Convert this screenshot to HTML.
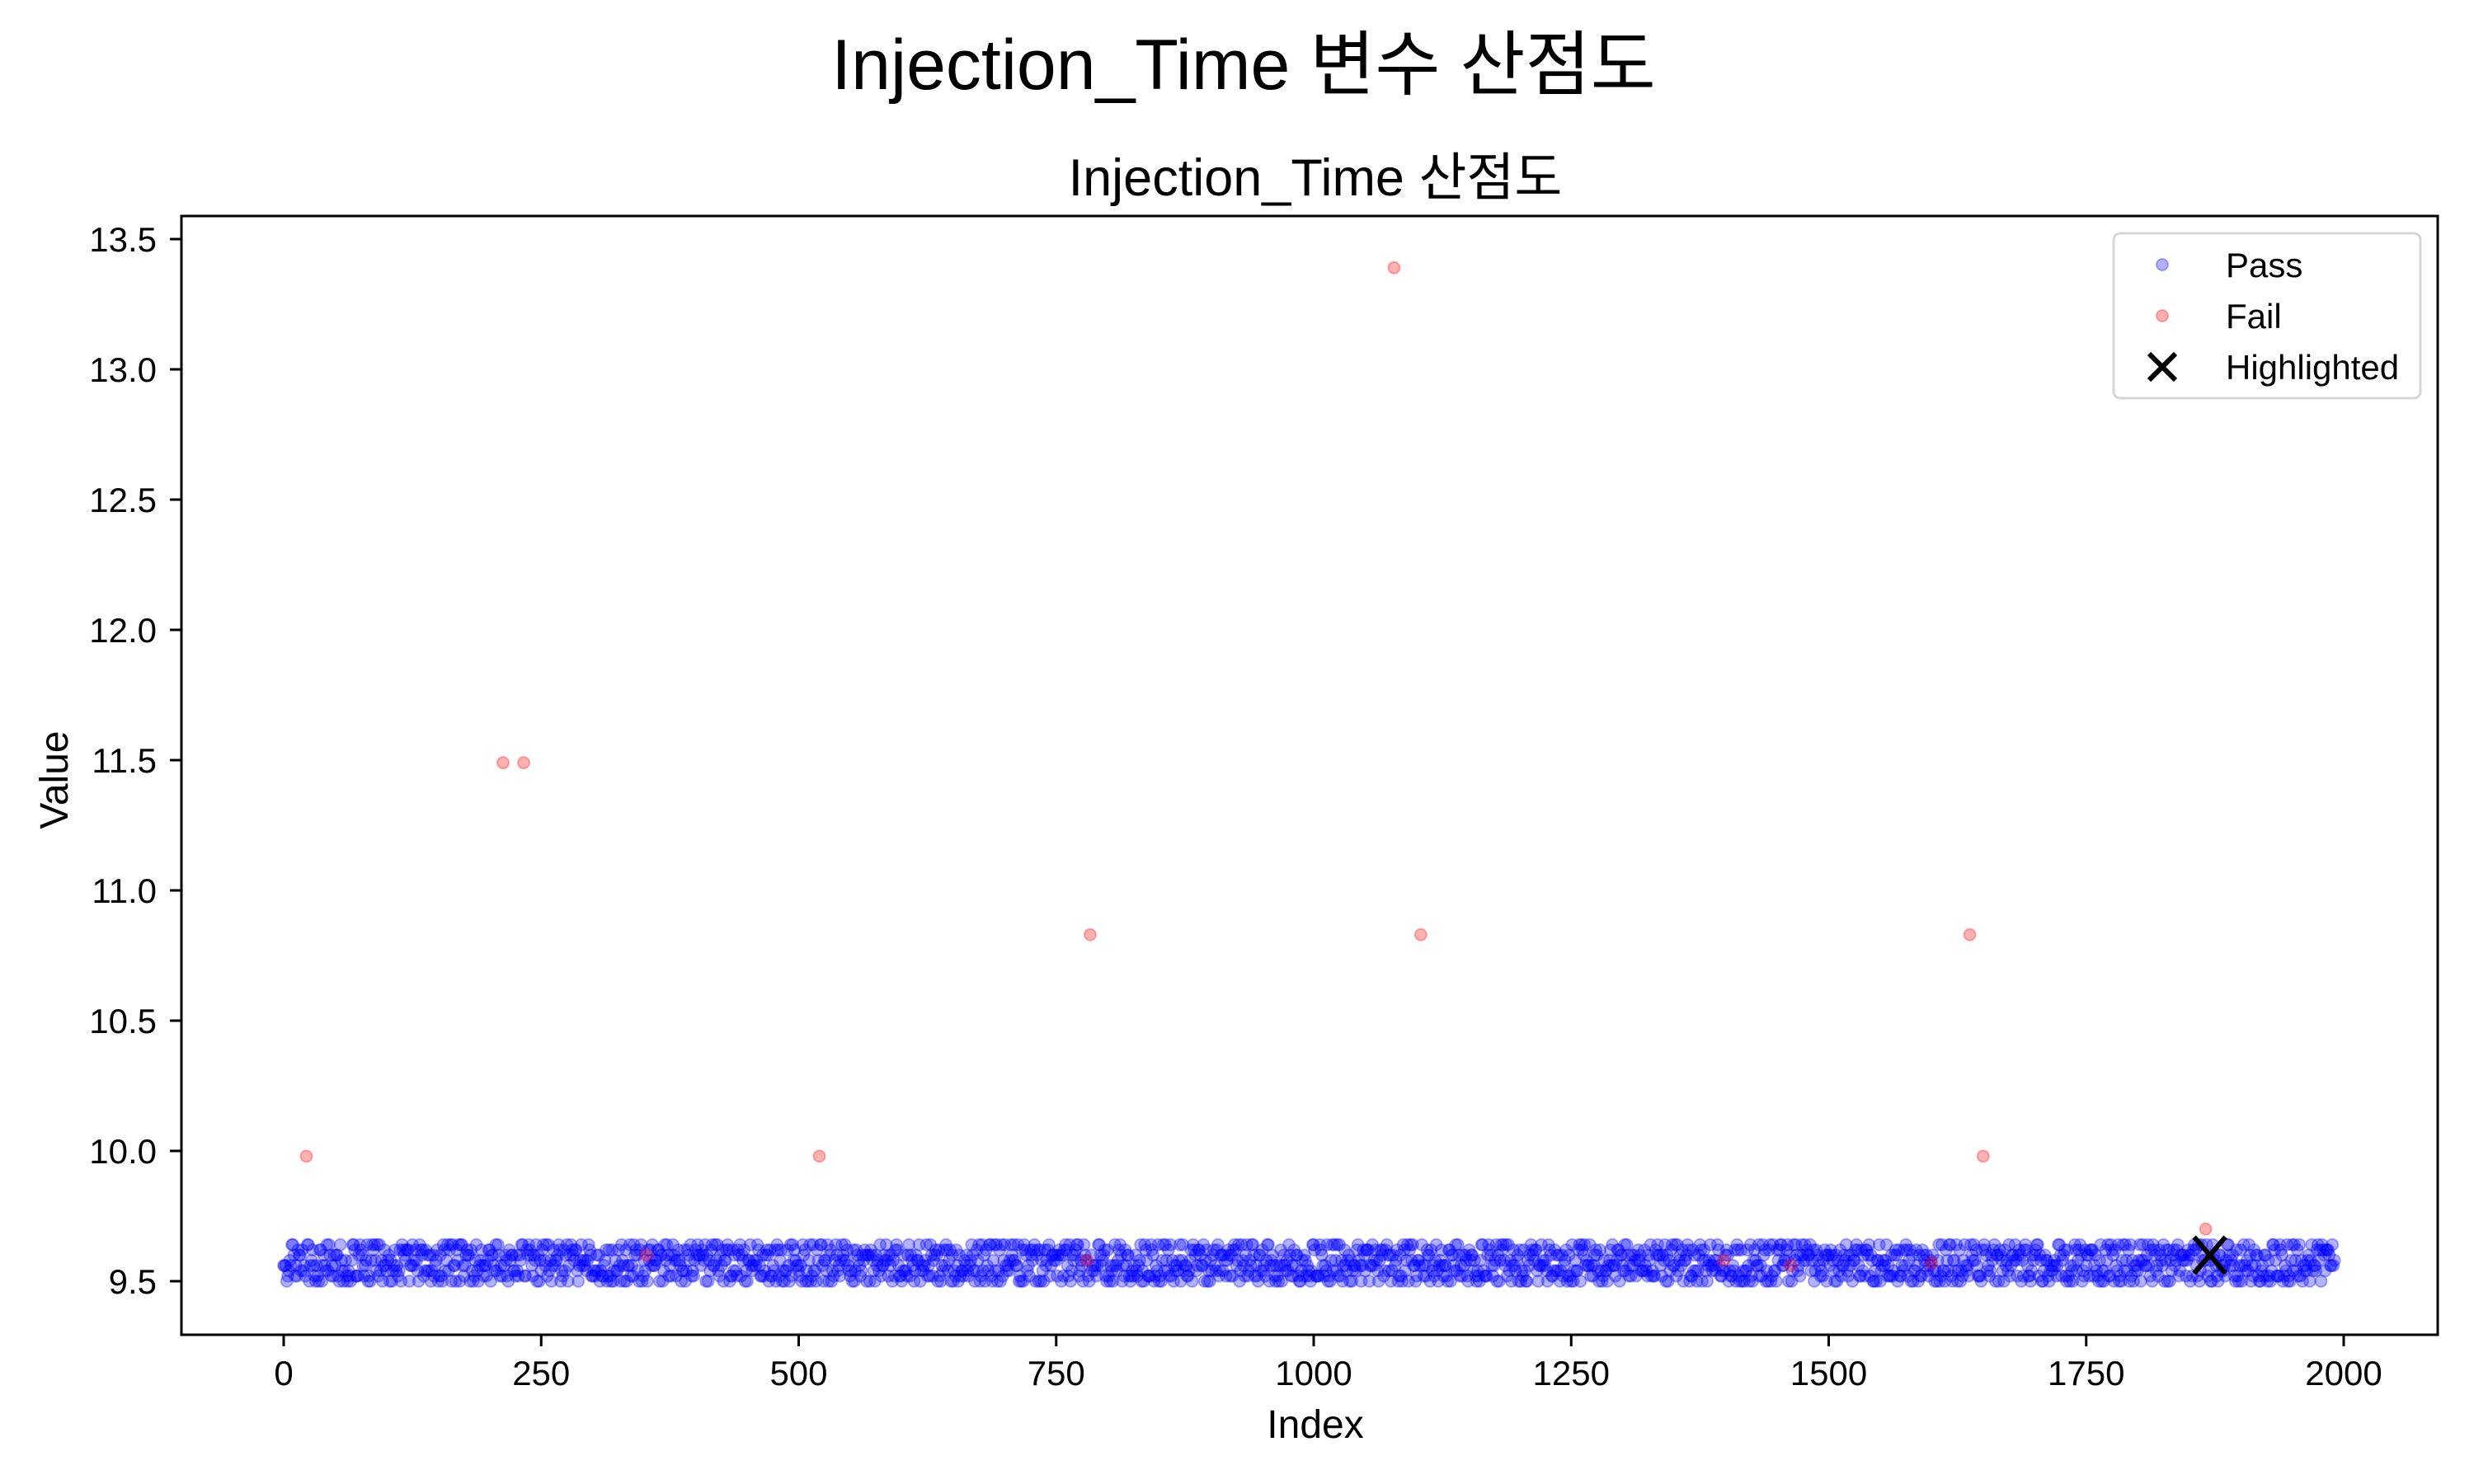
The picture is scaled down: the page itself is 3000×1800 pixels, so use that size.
<!DOCTYPE html>
<html><head><meta charset="utf-8">
<style>
html,body{margin:0;padding:0;background:#fff;}
svg{display:block;font-family:"Liberation Sans","Noto Sans CJK KR",sans-serif;}
</style></head>
<body>
<svg id="chart" width="3000" height="1800" viewBox="0 0 3000 1800">
  <text x="1508" y="108" font-size="86" text-anchor="middle">Injection_Time 변수 산점도</text>
  <text x="1595" y="237" font-size="63" text-anchor="middle">Injection_Time 산점도</text>
  <g id="marks"></g>
  <rect x="220" y="262" width="2736" height="1357" fill="none" stroke="#000" stroke-width="3"/>
  <g id="xticks"></g>
  <g id="yticks"></g>
  <text x="1595" y="1744" font-size="48" text-anchor="middle">Index</text>
  <text x="0" y="0" font-size="48" text-anchor="middle" transform="translate(82,946) rotate(-90)">Value</text>
  <g>
    <rect x="2563" y="283" width="372" height="200" rx="8" fill="#fff" fill-opacity="0.8" stroke="#d6d6d6" stroke-width="3"/>
    <g>
      <circle cx="2622" cy="321" r="7" fill="#0000ff" fill-opacity="0.3" stroke="#0000ff" stroke-opacity="0.3" stroke-width="2"/>
      <text x="2699" y="336" font-size="42">Pass</text>
    </g>
    <g>
      <circle cx="2622" cy="383" r="7" fill="#ff0000" fill-opacity="0.3" stroke="#ff0000" stroke-opacity="0.3" stroke-width="2"/>
      <text x="2699" y="398" font-size="42">Fail</text>
    </g>
    <g>
      <path d="M2606 429 L2638 461 M2638 429 L2606 461" stroke="#000" stroke-width="6"/>
      <text x="2699" y="460" font-size="42">Highlighted</text>
    </g>
  </g>
</svg>
<script>
// ---- data ----
const passLevelBase = 9.50;
const passLevelStep = 0.02;
const passCount = 1992;
const passLevels = (
"3162540735214630571243605172436152074316253041726351" +
"2406153726140537261405326170425316072431562043716250" +
"4172635041526307145236170452631704521637045216374052" +
"1637240516372405163724051637420516374205163742051673" +
"5203614725036147250361472503614725306147205361427503" +
"6142750361427530614275036142753061427503614275306142" +
"0536172405361724053617240536172405361724053617204536" +
"7241605372416053724160537241605372416053724160537241" +
"1507362415073624150736241507362415073624150736241507" +
"4263715042637150426371504263715042637150426371504263" +
"2715360427153604271536042715360427153604271536042715" +
"6031574260315742603157426031574260315742603157426031" +
"3564120735641207356412073564120735641207356412073564" +
"0472613504726135047261350472613504726135047261350472" +
"5126307451263074512630745126307451263074512630745126" +
"7340516273405162734051627340516273405162734051627340" +
"2617403526174035261740352617403526174035261740352617" +
"4053726140537261405372614053726140537261405372614053" +
"1736250417362504173625041736250417362504173625041736" +
"6204371562043715620437156204371562043715620437156204" +
"0361547203615472036154720361547203615472036154720361" +
"5417062354170623541706235417062354170623541706235417" +
"3270145632701456327014563270145632701456327014563270" +
"7152634071526340715263407152634071526340715263407152" +
"2405713624057136240571362405713624057136240571362405" +
"6523401765234017652340176523401765234017652340176523" +
"1046275310462753104627531046275310462753104627531046" +
"4731062547310625473106254731062547310625473106254731" +
"3617520436175204361752043617520436175204361752043617" +
"0254637102546371025463710254637102546371025463710254" +
"5340716253407162534071625340716253407162534071625340" +
"7126450371264503712645037126450371264503712645037126" +
"2563041725630417256304172563041725630417256304172563" +
"6407125364071253640712536407125364071253640712536407" +
"1372654013726540137265401372654013726540137265401372" +
"4615203746152037461520374615203746152037461520374615" +
"0731462507314625073146250731462507314625073146250731" +
"5240617352406173524061735240617352406173524061735240" +
"3156720431567204315672043156720431567204315672043156");
const failIndex = [22, 213, 233, 352, 520, 780, 783, 1078, 1104, 1398, 1463, 1600, 1637, 1650, 1866];
const failValue = [9.98, 11.49, 11.49, 9.60, 9.98, 9.58, 10.83, 13.39, 10.83, 9.58, 9.56, 9.57, 10.83, 9.98, 9.70];
const highlightIndex = [1870];
const highlightValue = [9.60];
const xTicks = [0, 250, 500, 750, 1000, 1250, 1500, 1750, 2000];
const yTicks = [9.5, 10.0, 10.5, 11.0, 11.5, 12.0, 12.5, 13.0, 13.5];

// ---- axes ----
const X0 = 344, XS = 1.249;
const Y0 = 1554, YS = 316;
function xPos(v){ return X0 + v * XS; }
function yPos(v){ return Y0 - (v - 9.5) * YS; }

const NS = "http://www.w3.org/2000/svg";
const marks = document.getElementById("marks");
const failSet = new Set(failIndex);
const L = passLevels.length;

for (let i = 0; i < passCount; i++) {
  if (failSet.has(i)) continue;
  const v = passLevelBase + passLevelStep * Number(passLevels[(i * 37) % L]);
  const c = document.createElementNS(NS, "circle");
  c.setAttribute("cx", xPos(i));
  c.setAttribute("cy", yPos(v));
  c.setAttribute("r", 7);
  c.setAttribute("fill", "#0000ff");
  c.setAttribute("fill-opacity", "0.3");
  c.setAttribute("stroke", "#0000ff");
  c.setAttribute("stroke-opacity", "0.3");
  c.setAttribute("stroke-width", "2");
  
  
  marks.appendChild(c);
}
for (let k = 0; k < failIndex.length; k++) {
  const c = document.createElementNS(NS, "circle");
  c.setAttribute("cx", xPos(failIndex[k]));
  c.setAttribute("cy", yPos(failValue[k]));
  c.setAttribute("r", 7);
  c.setAttribute("fill", "#ff0000");
  c.setAttribute("fill-opacity", "0.3");
  c.setAttribute("stroke", "#ff0000");
  c.setAttribute("stroke-opacity", "0.3");
  c.setAttribute("stroke-width", "2");
  
  
  marks.appendChild(c);
}
for (let k = 0; k < highlightIndex.length; k++) {
  const x = xPos(highlightIndex[k]), y = yPos(highlightValue[k]);
  const p = document.createElementNS(NS, "path");
  p.setAttribute("d", `M${x-19} ${y-22} L${x+19} ${y+22} M${x+19} ${y-22} L${x-19} ${y+22}`);
  p.setAttribute("stroke", "#000");
  p.setAttribute("stroke-width", "6");
  
  
  marks.appendChild(p);
}

const xg = document.getElementById("xticks");
xTicks.forEach(t => {
  const x = xPos(t);
  const l = document.createElementNS(NS, "line");
  l.setAttribute("x1", x); l.setAttribute("x2", x);
  l.setAttribute("y1", 1619); l.setAttribute("y2", 1633);
  l.setAttribute("stroke", "#000"); l.setAttribute("stroke-width", "3");
  
  
  xg.appendChild(l);
  const tx = document.createElementNS(NS, "text");
  tx.setAttribute("x", x); tx.setAttribute("y", 1680);
  tx.setAttribute("font-size", "42"); tx.setAttribute("text-anchor", "middle");
  tx.textContent = String(t);
  
  
  xg.appendChild(tx);
});
const yg = document.getElementById("yticks");
yTicks.forEach(t => {
  const y = yPos(t);
  const l = document.createElementNS(NS, "line");
  l.setAttribute("x1", 206); l.setAttribute("x2", 220);
  l.setAttribute("y1", y); l.setAttribute("y2", y);
  l.setAttribute("stroke", "#000"); l.setAttribute("stroke-width", "3");
  
  
  yg.appendChild(l);
  const tx = document.createElementNS(NS, "text");
  tx.setAttribute("x", 190); tx.setAttribute("y", y + 15);
  tx.setAttribute("font-size", "42"); tx.setAttribute("text-anchor", "end");
  tx.textContent = t.toFixed(1);
  
  
  yg.appendChild(tx);
});
</script>
</body></html>
